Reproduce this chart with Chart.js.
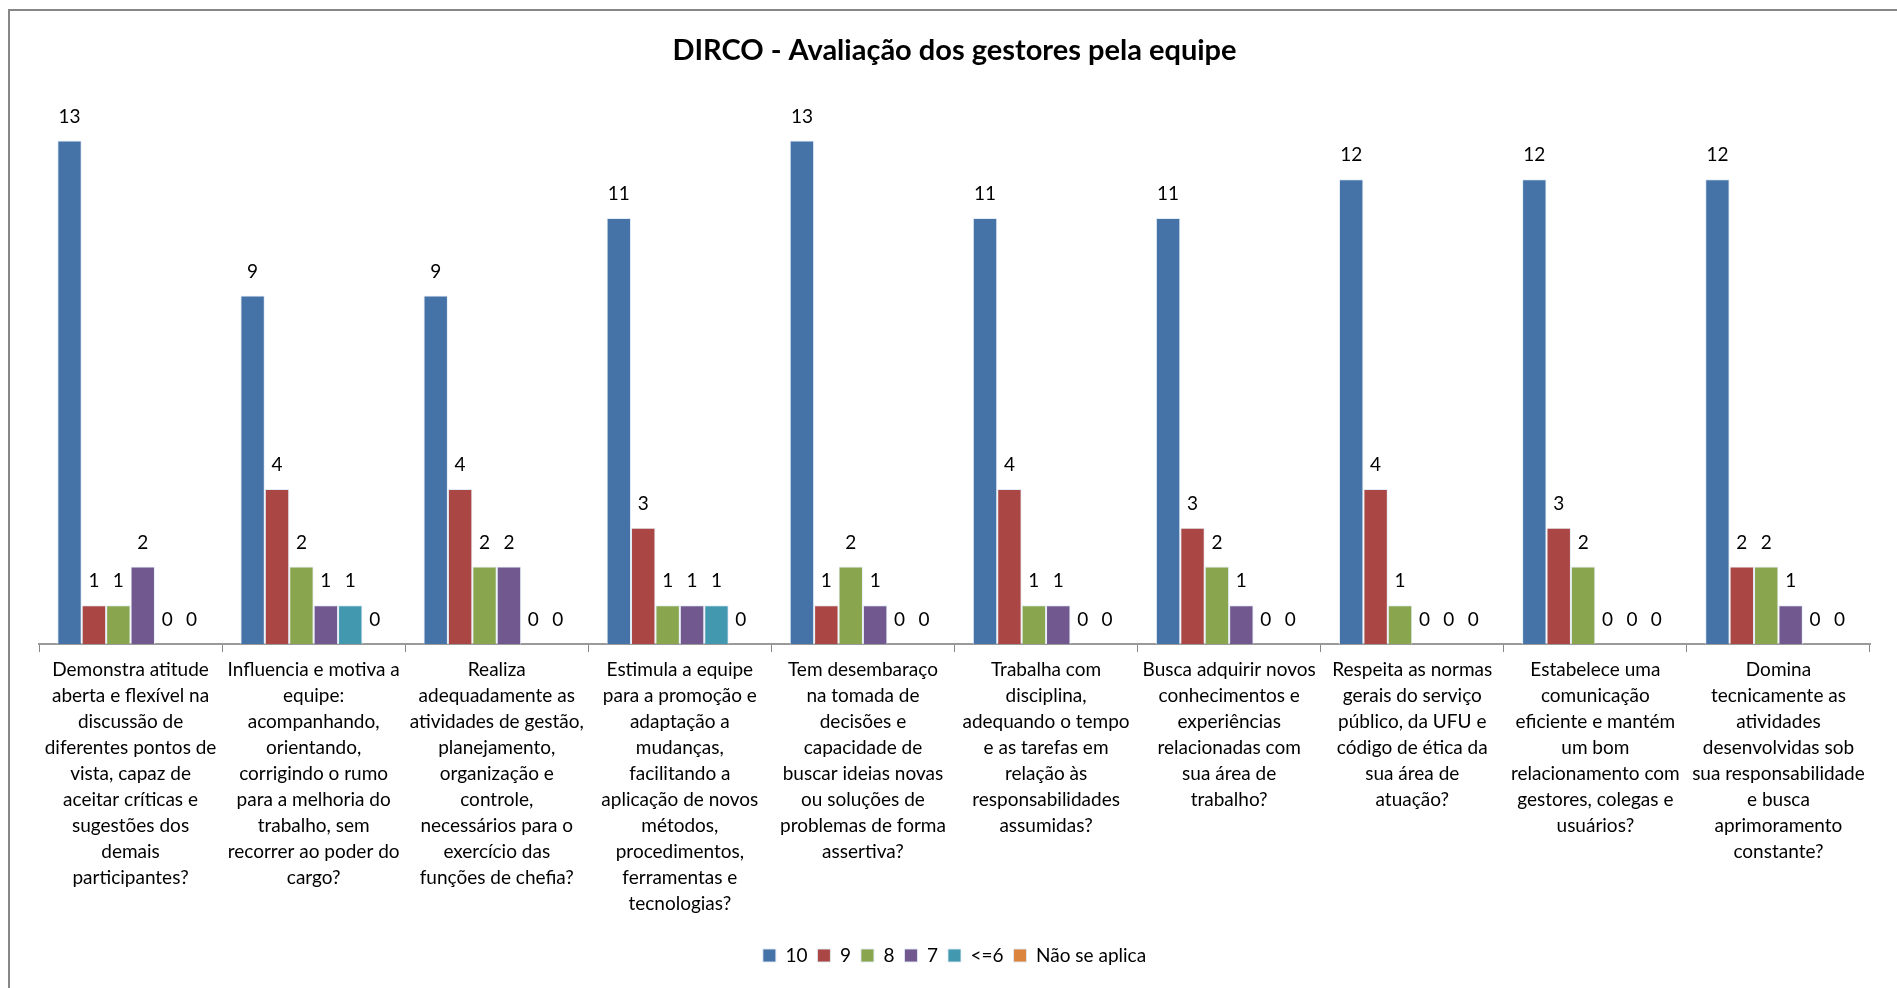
<!DOCTYPE html>
<html>
<head>
<meta charset="utf-8">
<script src="https://cdn.jsdelivr.net/npm/chart.js@4.4.1/dist/chart.umd.min.js"></script>
<style>
	html, body { margin: 0; padding: 0; background: #fff; }
	#wrap { position: relative; width: 1897px; height: 988px; overflow: hidden; }
</style>
</head>
<body>
<div id="wrap"><canvas id="myChart" width="1897" height="988"></canvas></div>
<script>
const categories = [
	["Demonstra atitude", "aberta e flexível na", "discussão de", "diferentes pontos de", "vista, capaz de", "aceitar críticas e", "sugestões dos", "demais", "participantes?"],
	["Influencia e motiva a", "equipe:", "acompanhando,", "orientando,", "corrigindo o rumo", "para a melhoria do", "trabalho, sem", "recorrer ao poder do", "cargo?"],
	["Realiza", "adequadamente as", "atividades de gestão,", "planejamento,", "organização e", "controle,", "necessários para o", "exercício das", "funções de chefia?"],
	["Estimula a equipe", "para a promoção e", "adaptação a", "mudanças,", "facilitando a", "aplicação de novos", "métodos,", "procedimentos,", "ferramentas e", "tecnologias?"],
	["Tem desembaraço", "na tomada de", "decisões e", "capacidade de", "buscar ideias novas", "ou soluções de", "problemas de forma", "assertiva?"],
	["Trabalha com", "disciplina,", "adequando o tempo", "e as tarefas em", "relação às", "responsabilidades", "assumidas?"],
	["Busca adquirir novos", "conhecimentos e", "experiências", "relacionadas com", "sua área de", "trabalho?"],
	["Respeita as normas", "gerais do serviço", "público, da UFU e", "código de ética da", "sua área de", "atuação?"],
	["Estabelece uma", "comunicação", "eficiente e mantém", "um bom", "relacionamento com", "gestores, colegas e", "usuários?"],
	["Domina", "tecnicamente as", "atividades", "desenvolvidas sob", "sua responsabilidade", "e busca", "aprimoramento", "constante?"]
];

const nota10 = [13, 9, 9, 11, 13, 11, 11, 12, 12, 12];
const nota9 = [1, 4, 4, 3, 1, 4, 3, 4, 3, 2];
const nota8 = [1, 2, 2, 1, 2, 1, 2, 1, 2, 2];
const nota7 = [2, 1, 2, 1, 1, 1, 1, 0, 0, 1];
const nota6 = [0, 1, 0, 1, 0, 0, 0, 0, 0, 0];
const naoAplica = [0, 0, 0, 0, 0, 0, 0, 0, 0, 0];

const FONT = "Lato, 'Open Sans', sans-serif";
const EDGE = "rgba(225,235,245,0.9)";

const ctx = document.getElementById('myChart');

// outer frame like the Excel chart border (goes past the picture edge)
const framePlugin = {
	id: 'frame',
	beforeDraw(chart) {
		const c = chart.ctx;
		c.save();
		c.fillStyle = "#ffffff";
		c.fillRect(0, 0, chart.width, chart.height);
		c.strokeStyle = "#878787";
		c.lineWidth = 2;
		c.strokeRect(9, 10, 3000, 3000);
		c.restore();
	}
};

// value labels above each bar
const valuePlugin = {
	id: 'values',
	afterDatasetsDraw(chart) {
		const c = chart.ctx;
		c.save();
		c.font = "19px " + FONT;
		c.fillStyle = "#000";
		c.textAlign = "center";
		c.textBaseline = "middle";
		chart.data.datasets.forEach((ds, i) => {
			const meta = chart.getDatasetMeta(i);
			meta.data.forEach((bar, j) => {
				c.fillText(String(ds.data[j]), bar.x, bar.y - 24);
			});
		});
		c.restore();
	}
};

Chart.defaults.font.family = FONT;
Chart.defaults.color = "#000";

new Chart(ctx, {
	type: 'bar',
	data: {
		labels: categories,
		datasets: [
			{ label: '10', data: nota10, backgroundColor: "#4572A7" },
			{ label: '9', data: nota9, backgroundColor: "#AA4643" },
			{ label: '8', data: nota8, backgroundColor: "#89A54E" },
			{ label: '7', data: nota7, backgroundColor: "#71588F" },
			{ label: '<=6', data: nota6, backgroundColor: "#4198AF" },
			{ label: 'Não se aplica', data: naoAplica, backgroundColor: "#DB843D" }
		]
	},
	options: {
		responsive: false,
		animation: false,
		categoryPercentage: 0.8,
		barPercentage: 1.0,
		datasets: {
			bar: { borderWidth: 1, borderColor: EDGE }
		},
		layout: {
			padding: { left: 39, right: 27, top: 0, bottom: 13 }
		},
		plugins: {
			title: {
				display: true,
				text: "DIRCO - Avaliação dos gestores pela equipe",
				font: { size: 29, weight: 'bold' },
				padding: { top: 33, bottom: 34 }
			},
			legend: {
				position: 'bottom',
				labels: {
					boxWidth: 13,
					boxHeight: 13,
					padding: 10,
					font: { size: 19 }
				}
			},
			tooltip: { enabled: false }
		},
		scales: {
			x: {
				grid: {
					display: true,
					drawOnChartArea: false,
					drawTicks: true,
					tickLength: 8,
					color: "#878787"
				},
				border: { color: "#9a9a9a", width: 2 },
				ticks: {
					maxRotation: 0,
					minRotation: 0,
					autoSkip: false,
					padding: 5,
					font: { size: 19, lineHeight: "26px" }
				},
				afterFit(scale) {
					scale.height += 14;
				}
			},
			y: {
				display: false,
				beginAtZero: true,
				min: 0,
				max: 14
			}
		}
	},
	plugins: [framePlugin, valuePlugin]
});
</script>
</body>
</html>
